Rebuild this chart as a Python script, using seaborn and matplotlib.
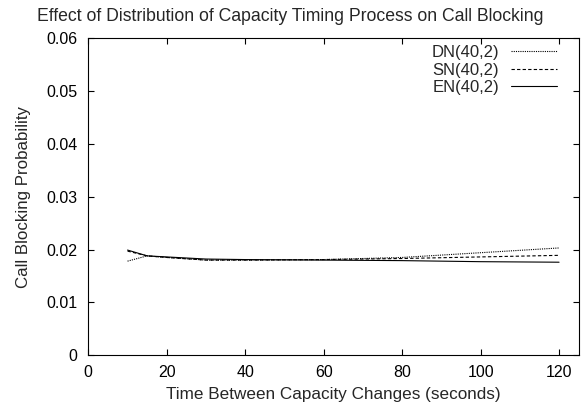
import numpy as np
import pandas as pd
import matplotlib
matplotlib.use("Agg")
import matplotlib.pyplot as plt
import seaborn as sns

# values
t = [10, 15, 20, 30, 40, 60, 80, 100, 120]
dn = [0.0178, 0.0188, 0.0185, 0.0180, 0.0180, 0.0181, 0.0185, 0.0194, 0.0203]
sn = [0.0197, 0.0188, 0.0185, 0.0180, 0.0180, 0.0181, 0.0183, 0.0186, 0.0189]
en = [0.0199, 0.0188, 0.0186, 0.0182, 0.0181, 0.0180, 0.0179, 0.0177, 0.0176]
labels = ["DN(40,2)", "SN(40,2)", "EN(40,2)"]

df = pd.DataFrame({
    "t": t * 3,
    "p": dn + sn + en,
    "series": [labels[0]] * len(t) + [labels[1]] * len(t) + [labels[2]] * len(t),
})

sns.set_style("ticks")
plt.rcParams["font.family"] = ["Liberation Sans", "DejaVu Sans"]

fig = plt.figure(figsize=(5.81, 4.04), dpi=100)
ax = fig.add_axes([0.152, 0.121, 0.844, 0.784])

styles = {labels[0]: (0, (1, 1)), labels[1]: (0, (3, 2)), labels[2]: "-"}
for lab in labels:
    sns.lineplot(data=df[df["series"] == lab], x="t", y="p", ax=ax,
                 color="black", linewidth=0.8, linestyle=styles[lab], label=lab)

ax.set_xlim(0, 125)
ax.set_ylim(0, 0.06)
ax.set_xticks([0, 20, 40, 60, 80, 100, 120])
ax.set_yticks([0, 0.01, 0.02, 0.03, 0.04, 0.05, 0.06])
ax.set_yticklabels(["0", "0.01", "0.02", "0.03", "0.04", "0.05", "0.06"])
ax.tick_params(direction="in", top=True, right=True, length=4, labelsize=11.5,
               colors="black")
ax.tick_params(axis="x", pad=7)
ax.tick_params(axis="y", pad=8)
for s in ax.spines.values():
    s.set_linewidth(0.8)
    s.set_color("black")

ax.set_xlabel("Time Between Capacity Changes (seconds)", fontsize=12.3, labelpad=5)
ax.set_ylabel("Call Blocking Probability", fontsize=12.2, labelpad=11)
fig.suptitle("Effect of Distribution of Capacity Timing Process on Call Blocking",
             fontsize=12.7, x=0.5, y=0.958, va="center")

leg = ax.legend(loc="upper right", bbox_to_anchor=(0.97, 1.0), frameon=False,
                markerfirst=False, fontsize=12, handlelength=2.8,
                labelspacing=0.15, borderaxespad=0.0, handletextpad=0.7)

fig.savefig("out.png", dpi=100)
